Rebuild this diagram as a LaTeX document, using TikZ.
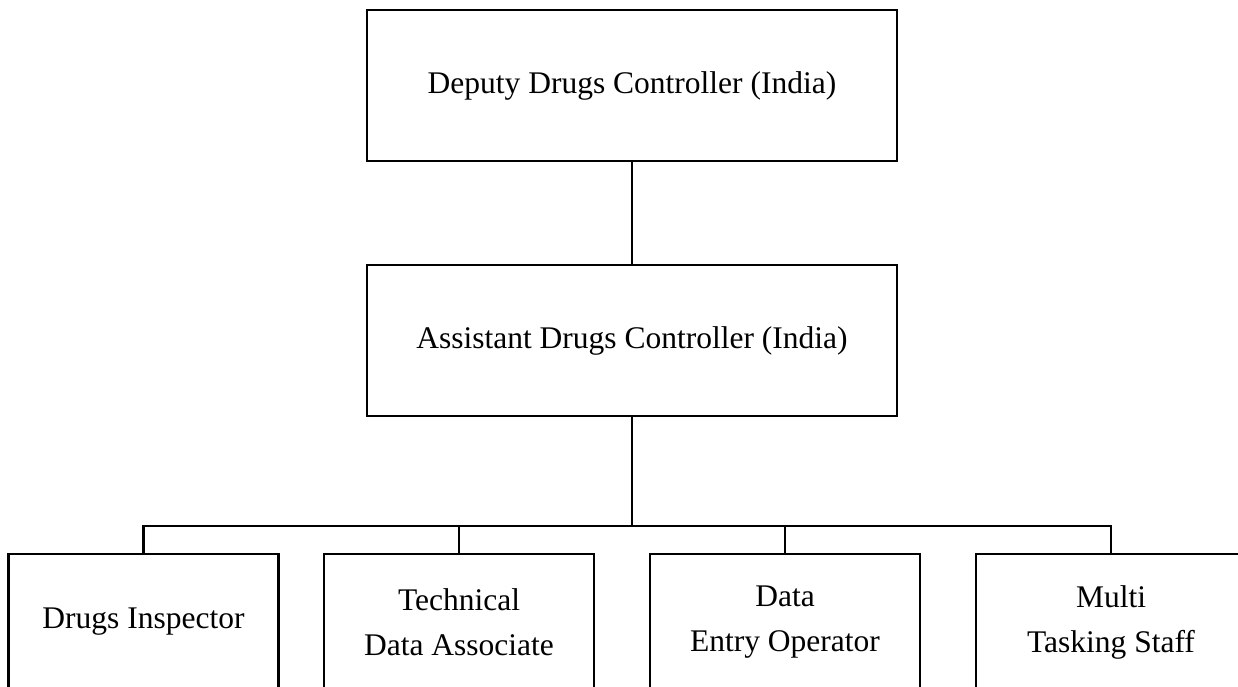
\documentclass[tikz,border=0pt]{standalone}
\usepackage{fontspec}
\setmainfont{Liberation Serif}

\begin{document}
\begin{tikzpicture}[x=0.5pt,y=-0.5pt,
    boks/.style={draw,line width=1.1pt,align=center,inner sep=0pt,
        font=\fontsize{15.75}{22.5}\selectfont},
    stor/.style={boks,minimum width=265pt,minimum height=75.5pt},
    liten/.style={boks,minimum width=135pt,minimum height=68pt},
    linje/.style={line width=1.1pt}]
    \useasboundingbox (0,0) rectangle (1238,686);
    \clip (0,0) rectangle (1238,686);

    %Ledere
        \node[stor] (deputy) at (632,85.5) {Deputy Drugs Controller (India)};
        \node[stor] (assistant) at (632,340.5) {Assistant Drugs Controller (India)};

    %Ansatte
        \node[liten] (inspector) at (143.5,622) {Drugs Inspector};
        \node[liten] (associate) at (459,622) {Technical\\Data Associate};
        \node[liten] (operator) at (785,622) {Data\\Entry Operator};
        \node[liten] (staff) at (1111,622) {Multi\\Tasking Staff};

    %Linjer
        \coordinate (bus) at (632,526);
        \draw[linje] (deputy) -- (assistant);
        \draw[linje] (assistant) -- (bus);
        \draw[linje] (inspector.north) |- (bus) -| (staff.north);
        \foreach \n in {associate,operator}
            \draw[linje] (\n.north) -- (\n.north |- bus);

\end{tikzpicture}
\end{document}
